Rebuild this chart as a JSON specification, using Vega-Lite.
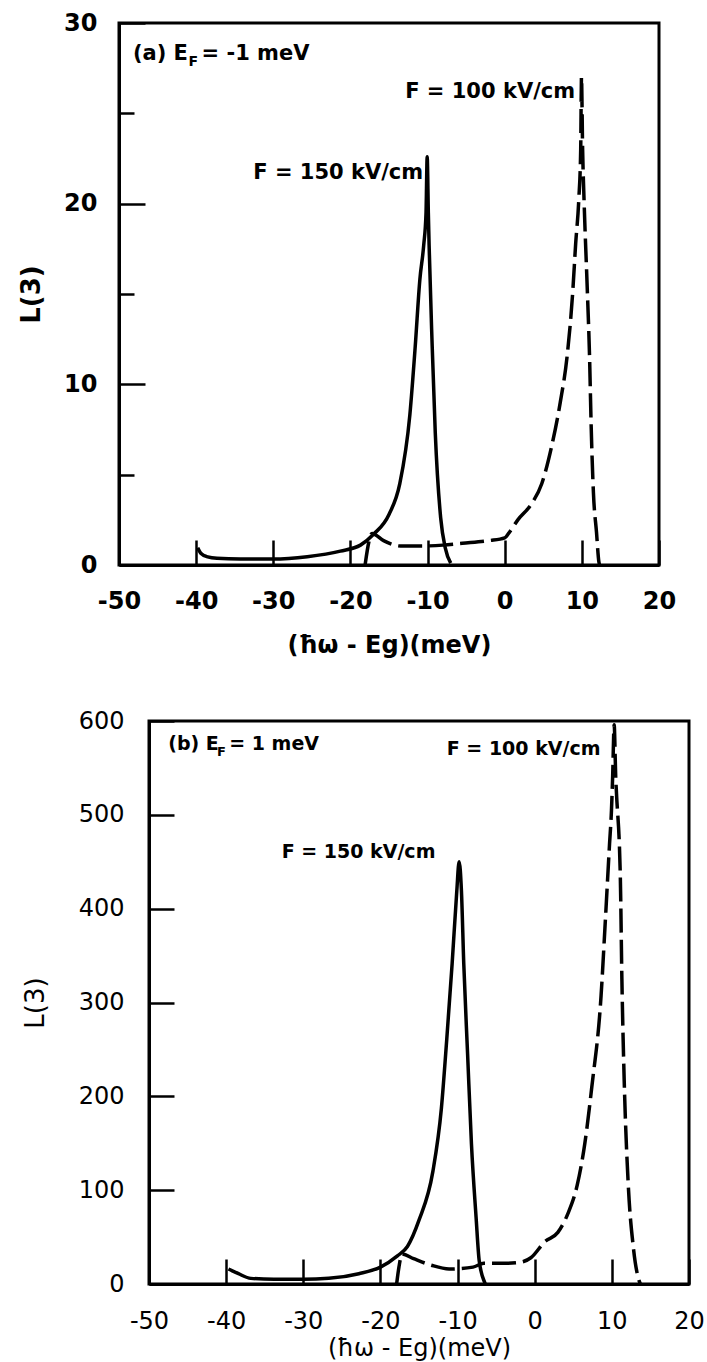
{
  "$schema": "https://vega.github.io/schema/vega-lite/v6.json",
  "background": "white",
  "padding": {"left": 17, "top": 9, "right": 5, "bottom": 2},
  "spacing": 156,
  "bounds": "flush",
  "config": {
    "view": {"stroke": "black", "strokeWidth": 3},
    "axis": {"domainColor": "black", "domainWidth": 3, "tickColor": "black", "tickWidth": 2.5, "labelColor": "black", "titleColor": "black", "grid": false, "labelFont": "DejaVu Sans", "titleFont": "DejaVu Sans"},
    "text": {"font": "DejaVu Sans", "color": "black"}
  },
  "datasets": {
    "a150": [
      {"x": -39.8, "y": 0.95}, {"x": -39.4, "y": 0.65}, {"x": -38.5, "y": 0.45}, {"x": -37.3, "y": 0.37},
      {"x": -34.3, "y": 0.33}, {"x": -30.1, "y": 0.33}, {"x": -25.6, "y": 0.46}, {"x": -21.3, "y": 0.77},
      {"x": -18.7, "y": 1.1}, {"x": -17.0, "y": 1.7}, {"x": -15.0, "y": 2.8}, {"x": -13.6, "y": 4.5},
      {"x": -12.3, "y": 8.3}, {"x": -11.6, "y": 12.1}, {"x": -11.0, "y": 15.8}, {"x": -10.5, "y": 17.7},
      {"x": -10.2, "y": 19.5}, {"x": -10.05, "y": 22.6}, {"x": -9.9, "y": 19.5}, {"x": -9.8, "y": 17.7},
      {"x": -9.4, "y": 12.1}, {"x": -9.0, "y": 7.3}, {"x": -8.3, "y": 2.6}, {"x": -7.7, "y": 0.94},
      {"x": -7.0, "y": 0.1}
    ],
    "a100": [
      {"x": -18.1, "y": 0}, {"x": -17.6, "y": 1.3}, {"x": -17.2, "y": 1.75}, {"x": -15.7, "y": 1.35},
      {"x": -13.5, "y": 1.05}, {"x": -10.9, "y": 1.05}, {"x": -8.0, "y": 1.1}, {"x": -5.5, "y": 1.2},
      {"x": -2.0, "y": 1.35}, {"x": 0.0, "y": 1.5}, {"x": 0.5, "y": 1.75}, {"x": 1.7, "y": 2.5},
      {"x": 3.5, "y": 3.4}, {"x": 4.8, "y": 4.5}, {"x": 6.1, "y": 6.6}, {"x": 7.2, "y": 9.0},
      {"x": 8.1, "y": 11.6}, {"x": 8.8, "y": 15.0}, {"x": 9.2, "y": 17.8}, {"x": 9.6, "y": 20.2},
      {"x": 9.85, "y": 23}, {"x": 9.95, "y": 27}, {"x": 10.1, "y": 23}, {"x": 10.3, "y": 20},
      {"x": 10.7, "y": 15.3}, {"x": 11.0, "y": 11.5}, {"x": 11.2, "y": 7.8}, {"x": 11.5, "y": 4.0},
      {"x": 11.9, "y": 1.8}, {"x": 12.2, "y": 0.2}, {"x": 12.3, "y": 0}
    ],
    "aText": [
      {"x": -48.2, "y": 28.3, "t": "(a) E"},
      {"x": -39.3, "y": 28.3, "t": "= -1 meV"},
      {"x": -32.6, "y": 21.7, "t": "F = 150 kV/cm"},
      {"x": -12.9, "y": 26.2, "t": "F = 100 kV/cm"}
    ],
    "aSub": [{"x": -41.0, "y": 27.85, "t": "F"}],
    "b150": [
      {"x": -39.7, "y": 16}, {"x": -39.2, "y": 14}, {"x": -38.4, "y": 11}, {"x": -36.8, "y": 6},
      {"x": -33.8, "y": 5}, {"x": -30.0, "y": 5}, {"x": -26.7, "y": 6}, {"x": -22.8, "y": 11},
      {"x": -20.0, "y": 18}, {"x": -17.8, "y": 30}, {"x": -16.5, "y": 40}, {"x": -15.0, "y": 68},
      {"x": -13.2, "y": 120}, {"x": -12.1, "y": 187}, {"x": -11.4, "y": 261}, {"x": -10.7, "y": 342},
      {"x": -10.1, "y": 419}, {"x": -9.8, "y": 450}, {"x": -9.5, "y": 419}, {"x": -9.2, "y": 342},
      {"x": -8.7, "y": 245}, {"x": -8.2, "y": 149}, {"x": -7.6, "y": 71}, {"x": -7.2, "y": 25},
      {"x": -6.5, "y": 2}, {"x": -6.4, "y": 0}
    ],
    "b100": [
      {"x": -17.9, "y": 0}, {"x": -17.6, "y": 18}, {"x": -17.2, "y": 32}, {"x": -15.7, "y": 27},
      {"x": -13.4, "y": 20}, {"x": -11.1, "y": 16}, {"x": -8.0, "y": 18}, {"x": -6.6, "y": 22},
      {"x": -4.0, "y": 22}, {"x": -2.0, "y": 23}, {"x": -0.5, "y": 28}, {"x": 1.3, "y": 45},
      {"x": 3.0, "y": 55}, {"x": 4.3, "y": 75}, {"x": 5.5, "y": 105}, {"x": 6.5, "y": 150},
      {"x": 7.4, "y": 210}, {"x": 8.6, "y": 307}, {"x": 9.1, "y": 379}, {"x": 9.7, "y": 469},
      {"x": 9.95, "y": 505}, {"x": 10.1, "y": 540}, {"x": 10.3, "y": 596}, {"x": 10.5, "y": 540},
      {"x": 10.6, "y": 523}, {"x": 11.1, "y": 433}, {"x": 11.3, "y": 325}, {"x": 11.6, "y": 217},
      {"x": 12.1, "y": 110}, {"x": 12.8, "y": 38}, {"x": 13.6, "y": 2}, {"x": 13.7, "y": 0}
    ],
    "bText": [
      {"x": -47.5, "y": 576, "t": "(b) E"},
      {"x": -39.6, "y": 576, "t": "= 1 meV"},
      {"x": -32.8, "y": 460, "t": "F = 150 kV/cm"},
      {"x": -11.4, "y": 570, "t": "F = 100 kV/cm"}
    ],
    "bSub": [{"x": -41.2, "y": 567, "t": "F"}],
    "empty": []
  },
  "vconcat": [
    {
      "width": 540,
      "height": 542,
      "encoding": {
        "x": {
          "field": "x", "type": "quantitative",
          "scale": {"domain": [-50, 20], "nice": false, "zero": false},
          "axis": {
            "values": [-50, -40, -30, -20, -10, 0, 10, 20],
            "labelExpr": "'' + datum.value",
            "labelFlush": false,
            "tickSize": -25,
            "labelFontSize": 24, "labelFontWeight": "bold", "labelPadding": 49,
            "title": "(ħω - Eg)(meV)", "titleFontSize": 24, "titleFontWeight": "bold", "titlePadding": 20
          }
        },
        "y": {
          "field": "y", "type": "quantitative",
          "scale": {"domain": [0, 30], "nice": false},
          "axis": {
            "values": [0, 5, 10, 15, 20, 25, 30],
            "labelExpr": "datum.value % 10 === 0 ? '' + datum.value : ''",
            "tickSize": {"condition": {"test": "datum.value % 10 === 0", "value": -26}, "value": -15},
            "labelFontSize": 24, "labelFontWeight": "bold", "labelPadding": 48,
            "title": "L(3)", "titleFontSize": 26, "titleFontWeight": "bold", "titlePadding": 19
          }
        }
      },
      "layer": [
        {"data": {"name": "a150"}, "mark": {"type": "line", "color": "black", "strokeWidth": 3.5, "interpolate": "monotone"}},
        {"data": {"name": "a100"}, "mark": {"type": "line", "color": "black", "strokeWidth": 3.5, "strokeDash": [24, 7], "interpolate": "monotone"}},
        {"data": {"name": "aText"}, "mark": {"type": "text", "align": "left", "baseline": "middle", "fontSize": 21, "fontWeight": "bold"}, "encoding": {"text": {"field": "t"}}},
        {"data": {"name": "aSub"}, "mark": {"type": "text", "align": "left", "baseline": "middle", "fontSize": 14, "fontWeight": "bold"}, "encoding": {"text": {"field": "t"}}}
      ]
    },
    {
      "bounds": "flush",
      "spacing": 0,
      "hconcat": [
        {
          "width": 30,
          "height": 10,
          "view": {"stroke": null},
          "data": {"name": "empty"},
          "mark": "point"
        },
        {
          "width": 540,
          "height": 563,
          "encoding": {
            "x": {
              "field": "x", "type": "quantitative",
              "scale": {"domain": [-50, 20], "nice": false, "zero": false},
              "axis": {
                "values": [-50, -40, -30, -20, -10, 0, 10, 20],
                "labelExpr": "'' + datum.value",
                "labelFlush": false,
                "tickSize": -25,
                "labelFontSize": 24, "labelPadding": 50,
                "title": "(ħω - Eg)(meV)", "titleFontSize": 24, "titleFontWeight": "normal", "titlePadding": 3
              }
            },
            "y": {
              "field": "y", "type": "quantitative",
              "scale": {"domain": [0, 600], "nice": false},
              "axis": {
                "values": [0, 100, 200, 300, 400, 500, 600],
                "labelExpr": "'' + datum.value",
                "tickSize": -25,
                "labelFontSize": 24, "labelPadding": 50,
                "title": "L(3)", "titleFontSize": 26, "titleFontWeight": "normal", "titlePadding": 30
              }
            }
          },
          "layer": [
            {"data": {"name": "b150"}, "mark": {"type": "line", "color": "black", "strokeWidth": 3.5, "interpolate": "monotone"}},
            {"data": {"name": "b100"}, "mark": {"type": "line", "color": "black", "strokeWidth": 3.5, "strokeDash": [24, 7], "interpolate": "monotone"}},
            {"data": {"name": "bText"}, "mark": {"type": "text", "align": "left", "baseline": "middle", "fontSize": 19, "fontWeight": "bold"}, "encoding": {"text": {"field": "t"}}},
            {"data": {"name": "bSub"}, "mark": {"type": "text", "align": "left", "baseline": "middle", "fontSize": 13, "fontWeight": "bold"}, "encoding": {"text": {"field": "t"}}}
          ]
        }
      ]
    }
  ]
}
